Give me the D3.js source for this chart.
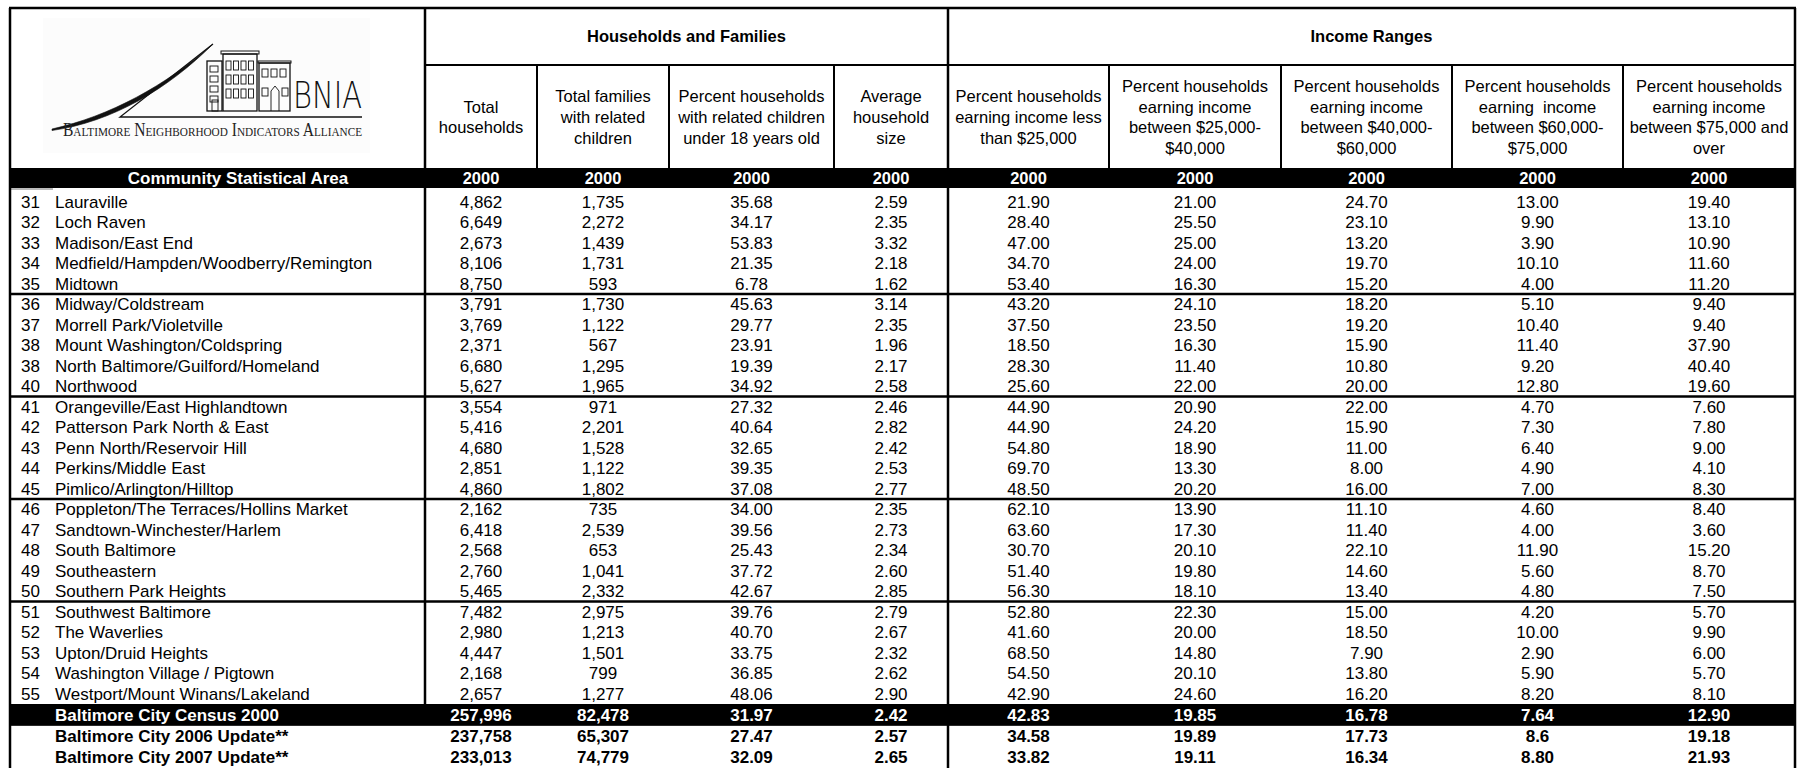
<!doctype html>
<html lang="en">
  <head>
    <meta charset="utf-8">
    <title>BNIA Households and Income Table</title>
    <style>
      body { margin: 0; background: #fff; }
      svg text { font-family: Arial, "Liberation Sans", sans-serif; white-space: pre; }
    </style>
  </head>
  <body>
    <div id="chart"></div>

    <script src="https://cdn.jsdelivr.net/npm/d3@7"></script>
    <script>
      const csaIds = ["31","32","33","34","35","36","37","38","38","40","41","42","43","44","45",
                      "46","47","48","49","50","51","52","53","54","55"];
      const csaNames = [
        "Lauraville","Loch Raven","Madison/East End","Medfield/Hampden/Woodberry/Remington","Midtown",
        "Midway/Coldstream","Morrell Park/Violetville","Mount Washington/Coldspring","North Baltimore/Guilford/Homeland","Northwood",
        "Orangeville/East Highlandtown","Patterson Park North & East","Penn North/Reservoir Hill","Perkins/Middle East","Pimlico/Arlington/Hilltop",
        "Poppleton/The Terraces/Hollins Market","Sandtown-Winchester/Harlem","South Baltimore","Southeastern","Southern Park Heights",
        "Southwest Baltimore","The Waverlies","Upton/Druid Heights","Washington Village / Pigtown","Westport/Mount Winans/Lakeland"];

      const totalHouseholds = [4862,6649,2673,8106,8750,3791,3769,2371,6680,5627,3554,5416,4680,2851,4860,2162,6418,2568,2760,5465,7482,2980,4447,2168,2657];
      const familiesWithChildren = [1735,2272,1439,1731,593,1730,1122,567,1295,1965,971,2201,1528,1122,1802,735,2539,653,1041,2332,2975,1213,1501,799,1277];
      const pctWithChildren = [35.68,34.17,53.83,21.35,6.78,45.63,29.77,23.91,19.39,34.92,27.32,40.64,32.65,39.35,37.08,34.00,39.56,25.43,37.72,42.67,39.76,40.70,33.75,36.85,48.06];
      const avgHouseholdSize = [2.59,2.35,3.32,2.18,1.62,3.14,2.35,1.96,2.17,2.58,2.46,2.82,2.42,2.53,2.77,2.35,2.73,2.34,2.60,2.85,2.79,2.67,2.32,2.62,2.90];
      const incLess25k = [21.90,28.40,47.00,34.70,53.40,43.20,37.50,18.50,28.30,25.60,44.90,44.90,54.80,69.70,48.50,62.10,63.60,30.70,51.40,56.30,52.80,41.60,68.50,54.50,42.90];
      const inc25to40k = [21.00,25.50,25.00,24.00,16.30,24.10,23.50,16.30,11.40,22.00,20.90,24.20,18.90,13.30,20.20,13.90,17.30,20.10,19.80,18.10,22.30,20.00,14.80,20.10,24.60];
      const inc40to60k = [24.70,23.10,13.20,19.70,15.20,18.20,19.20,15.90,10.80,20.00,22.00,15.90,11.00,8.00,16.00,11.10,11.40,22.10,14.60,13.40,15.00,18.50,7.90,13.80,16.20];
      const inc60to75k = [13.00,9.90,3.90,10.10,4.00,5.10,10.40,11.40,9.20,12.80,4.70,7.30,6.40,4.90,7.00,4.60,4.00,11.90,5.60,4.80,4.20,10.00,2.90,5.90,8.20];
      const inc75kPlus = [19.40,13.10,10.90,11.60,11.20,9.40,9.40,37.90,40.40,19.60,7.60,7.80,9.00,4.10,8.30,8.40,3.60,15.20,8.70,7.50,5.70,9.90,6.00,5.70,8.10];

      // city totals (census 2000, 2006 update, 2007 update)
      const cityLabels = ["Baltimore City Census 2000","Baltimore City 2006 Update**","Baltimore City 2007 Update**"];
      const cityHouseholds = [257996,237758,233013];
      const cityFamilies = [82478,65307,74779];
      const cityPctChildren = [31.97,27.47,32.09];
      const cityAvgSize = [2.42,2.57,2.65];
      const cityLess25k = [42.83,34.58,33.82];
      const city25to40k = [19.85,19.89,19.11];
      const city40to60k = [16.78,17.73,16.34];
      const city60to75k = [7.64,"8.6",8.80];   // 2006 value printed as "8.6"
      const city75kPlus = [12.90,19.18,21.93];

      const groupHeaders = ["Households and Families","Income Ranges"];
      const yearLabel = "2000";
      const colHeaders = [
        ["Total","households"],
        ["Total families","with related","children"],
        ["Percent households","with related children","under 18 years old"],
        ["Average","household","size"],
        ["Percent households","earning income less","than $25,000"],
        ["Percent households","earning income","between $25,000-","$40,000"],
        ["Percent households","earning income","between $40,000-","$60,000"],
        ["Percent households","earning  income","between $60,000-","$75,000"],
        ["Percent households","earning income","between $75,000 and","over"]
      ];

      const colKeys = ["hh","fam","pct","avg","lt25","r25","r40","r60","r75"];
      const fmtCount = d3.format(",");
      const fmtPct = d3.format(".2f");
      const colFormat = [fmtCount, fmtCount, fmtPct, fmtPct, fmtPct, fmtPct, fmtPct, fmtPct, fmtPct];
      const rowCols = [totalHouseholds, familiesWithChildren, pctWithChildren, avgHouseholdSize,
                       incLess25k, inc25to40k, inc40to60k, inc60to75k, inc75kPlus];
      const cityCols = [cityHouseholds, cityFamilies, cityPctChildren, cityAvgSize,
                        cityLess25k, city25to40k, city40to60k, city60to75k, city75kPlus];

      // ---- layout ----
      const width = 1807, height = 768;
      const frameL = 10, frameR = 1795, frameT = 8;
      const colEdges = [425,537,669,834,948,1109,1281,1452,1623,1795];
      const groupLine = 65, barTop = 168, barBottom = 188;
      const fs = 16.5, fsBody = 17;

      const svg = d3.select("#chart").append("svg")
        .attr("width", width)
        .attr("height", height);

      // column centers through an ordinal scale
      const xCol = d3.scaleOrdinal()
        .domain(colKeys)
        .range(colKeys.map((k, i) => (colEdges[i] + colEdges[i + 1]) / 2));

      // row bands
      const yRow = d3.scaleBand()
        .domain(csaNames)
        .range([191, 703.5]);
      const rowBase = 16.8;

      const yCity = d3.scaleBand()
        .domain(cityLabels)
        .range([704, 768]);

      // very faint backdrop of the logo image
      svg.append("rect")
        .attr("x", 43).attr("y", 18).attr("width", 327).attr("height", 135)
        .attr("fill", "#fcfcfc");

      // black bars (header and census row)
      svg.append("rect")
        .attr("x", frameL).attr("y", barTop)
        .attr("width", frameR - frameL).attr("height", barBottom - barTop)
        .attr("fill", "#000");
      svg.append("rect")
        .attr("x", frameL).attr("y", yCity(cityLabels[0]))
        .attr("width", frameR - frameL).attr("height", yCity.bandwidth() + 0.5)
        .attr("fill", "#000");

      // faint cell edge under the id column
      svg.append("line")
        .attr("x1", frameL).attr("x2", 53).attr("y1", barBottom + 1).attr("y2", barBottom + 1)
        .attr("stroke", "#bbb").attr("stroke-width", 2);

      // ---- grid lines ----
      const lines = svg.append("g").attr("stroke", "#000");
      // outer frame
      lines.append("line").attr("x1", frameL - 1).attr("x2", frameR + 1).attr("y1", frameT).attr("y2", frameT).attr("stroke-width", 2.5);
      lines.append("line").attr("x1", frameL).attr("x2", frameL).attr("y1", frameT).attr("y2", height).attr("stroke-width", 2.5);
      lines.append("line").attr("x1", frameR).attr("x2", frameR).attr("y1", frameT).attr("y2", height).attr("stroke-width", 2.5);
      // logo column edge & group divider
      lines.append("line").attr("x1", colEdges[0]).attr("x2", colEdges[0]).attr("y1", frameT).attr("y2", yCity(cityLabels[0])).attr("stroke-width", 2.5);
      lines.append("line").attr("x1", colEdges[4]).attr("x2", colEdges[4]).attr("y1", frameT).attr("y2", height).attr("stroke-width", 2.5);
      // group header bottom line
      lines.append("line").attr("x1", colEdges[0]).attr("x2", frameR).attr("y1", groupLine).attr("y2", groupLine).attr("stroke-width", 2);
      // column header separators
      lines.selectAll(".colsep")
        .data([1,2,3,5,6,7,8])
        .enter().append("line")
        .attr("x1", i => colEdges[i]).attr("x2", i => colEdges[i])
        .attr("y1", groupLine).attr("y2", barTop)
        .attr("stroke-width", 2);
      // separators every 5 rows
      lines.selectAll(".rowsep")
        .data(csaNames.filter((d, i) => i > 0 && i % 5 === 0))
        .enter().append("line")
        .attr("x1", frameL).attr("x2", frameR)
        .attr("y1", d => yRow(d) + 0.5).attr("y2", d => yRow(d) + 0.5)
        .attr("stroke-width", 2.5);

      // ---- header texts ----
      svg.selectAll(".group")
        .data(groupHeaders)
        .enter().append("text")
        .attr("x", (d, i) => i === 0 ? (colEdges[0] + colEdges[4]) / 2 : (colEdges[4] + colEdges[9]) / 2)
        .attr("y", 42)
        .attr("text-anchor", "middle")
        .attr("font-size", fs)
        .attr("font-weight", "bold")
        .text(d => d);

      const headerMid = 117, lineH = 20.8;
      colHeaders.forEach((lns, i) => {
        const t = svg.append("text")
          .attr("text-anchor", "middle")
          .attr("font-size", fs);
        lns.forEach((s, j) => {
          t.append("tspan")
            .attr("x", xCol(colKeys[i]))
            .attr("y", headerMid + (j - (lns.length - 1) / 2) * lineH + 6)
            .text(s);
        });
      });

      // bar labels
      svg.append("text")
        .attr("x", 238).attr("y", barTop + 16)
        .attr("text-anchor", "middle")
        .attr("font-size", fsBody).attr("font-weight", "bold").attr("fill", "#fff")
        .text("Community Statistical Area");
      svg.selectAll(".year")
        .data(colKeys)
        .enter().append("text")
        .attr("x", d => xCol(d)).attr("y", barTop + 16)
        .attr("text-anchor", "middle")
        .attr("font-size", fs).attr("font-weight", "bold").attr("fill", "#fff")
        .text(yearLabel);

      // ---- body rows ----
      const body = svg.append("g").attr("font-size", fsBody).attr("fill", "#000");
      body.selectAll(".id")
        .data(csaIds)
        .enter().append("text")
        .attr("x", 40).attr("y", (d, i) => yRow(csaNames[i]) + rowBase)
        .attr("text-anchor", "end")
        .text(d => d);
      body.selectAll(".name")
        .data(csaNames)
        .enter().append("text")
        .attr("x", 55).attr("y", d => yRow(d) + rowBase)
        .text(d => d);

      rowCols.forEach((vals, c) => {
        body.selectAll(".v" + c)
          .data(vals)
          .enter().append("text")
          .attr("x", xCol(colKeys[c]))
          .attr("y", (d, i) => yRow(csaNames[i]) + rowBase)
          .attr("text-anchor", "middle")
          .text(d => colFormat[c](d));
      });

      // ---- city rows ----
      const city = svg.append("g").attr("font-size", fsBody).attr("font-weight", "bold");
      city.selectAll(".clabel")
        .data(cityLabels)
        .enter().append("text")
        .attr("x", 55).attr("y", d => yCity(d) + yCity.bandwidth() / 2 + 6)
        .attr("fill", (d, i) => i === 0 ? "#fff" : "#000")
        .text(d => d);
      cityCols.forEach((vals, c) => {
        city.selectAll(".c" + c)
          .data(vals)
          .enter().append("text")
          .attr("x", xCol(colKeys[c]))
          .attr("y", (d, i) => yCity(cityLabels[i]) + yCity.bandwidth() / 2 + 6)
          .attr("text-anchor", "middle")
          .attr("fill", (d, i) => i === 0 ? "#fff" : "#000")
          .text(d => typeof d === "string" ? d : colFormat[c](d));
      });

      // ---- BNIA logo ----
      const logo = svg.append("g").attr("stroke", "#111").attr("fill", "none");
      // swoosh (thin tapered stroke)
      logo.append("path")
        .attr("d", "M52,129 C110,116 165,86 213,44 C168,89 112,122 52,130.5 Z")
        .attr("fill", "#111").attr("stroke-width", 0.6);
      // ramp line and base line
      logo.append("path").attr("d", "M213,44 L120,117 L362,117").attr("stroke-width", 1.3);
      // buildings
      logo.append("rect").attr("x", 207).attr("y", 61).attr("width", 15).attr("height", 50).attr("stroke-width", 1.3);
      logo.append("rect").attr("x", 223).attr("y", 54).attr("width", 34).attr("height", 57).attr("stroke-width", 1.3);
      logo.append("rect").attr("x", 221).attr("y", 51).attr("width", 38).attr("height", 3).attr("stroke-width", 1);
      logo.append("rect").attr("x", 259).attr("y", 63).attr("width", 31).attr("height", 48).attr("stroke-width", 1.3);
      logo.append("rect").attr("x", 258).attr("y", 61).attr("width", 33).attr("height", 2).attr("stroke-width", 1);
      const win = logo.append("g").attr("stroke-width", 0.9);
      d3.range(4).forEach(r => {
        win.append("rect").attr("x", 210).attr("y", 66 + r * 10).attr("width", 8).attr("height", 6);
      });
      d3.range(3).forEach(r => d3.range(4).forEach(c => {
        win.append("rect").attr("x", 226 + c * 7.5).attr("y", 61 + r * 14).attr("width", 5).attr("height", 9);
      }));
      d3.range(3).forEach(c => {
        win.append("rect").attr("x", 262 + c * 9).attr("y", 69).attr("width", 6).attr("height", 8);
      });
      win.append("rect").attr("x", 262).attr("y", 88).attr("width", 6).attr("height", 8);
      win.append("path").attr("d", "M271,111 L271,91 L275,86 L279,91 L279,111");
      win.append("rect").attr("x", 282).attr("y", 88).attr("width", 6).attr("height", 8);
      win.append("rect").attr("x", 212).attr("y", 100).attr("width", 6).attr("height", 11);

      svg.append("text")
        .attr("x", 293).attr("y", 108)
        .attr("font-size", 38)
        .attr("font-weight", 200)
        .attr("textLength", 69).attr("lengthAdjust", "spacingAndGlyphs")
        .attr("fill", "#111")
        .style("font-family", "'DejaVu Sans', sans-serif")
        .text("BNIA");
      svg.append("text")
        .attr("x", 63).attr("y", 136)
        .attr("font-size", 18)
        .attr("textLength", 299).attr("lengthAdjust", "spacingAndGlyphs")
        .attr("fill", "#222")
        .style("font-family", "'Liberation Serif', serif")
        .style("font-variant", "small-caps")
        .text("Baltimore Neighborhood Indicators Alliance");
    </script>
  </body>
</html>
